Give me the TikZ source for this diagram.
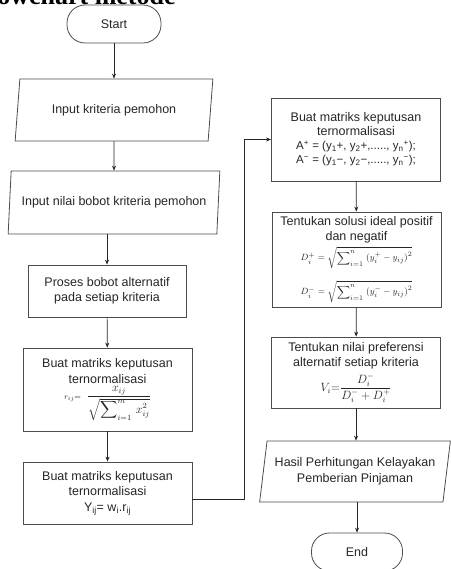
\documentclass[tikz,border=0pt]{standalone}
\usepackage{fontspec}
\usepackage{amsmath}
\setmainfont{Liberation Sans}
\newfontfamily\titlefont{Liberation Serif}
\usetikzlibrary{shapes.geometric,arrows.meta}

\begin{document}
\begin{tikzpicture}
  [x=1pt,y=-1pt,
   every node/.style={text=black!85,font=\fontsize{12.5}{15.5}\selectfont,align=center,inner sep=0pt},
   term/.style={draw=black!70,line width=0.8pt,rounded corners=18pt,minimum width=94pt,minimum height=38pt},
   proc/.style={draw=black!70,line width=0.8pt,rectangle},
   io/.style={draw=black!70,line width=0.8pt,trapezium,trapezium stretches=true},
   flow/.style={draw=black!85,line width=0.7pt,-{Stealth[length=5pt,width=4pt]}}]

  \useasboundingbox (0,0) rectangle (450,569);

  \node[anchor=base west,text=black,font=\titlefont\bfseries\fontsize{26}{28}\selectfont] (title) at (-26,5) {Flowchart metode};

  \node[term] (start) at (114,24) {Start};
  \node[io,trapezium left angle=75,trapezium right angle=105,minimum width=198pt,minimum height=62pt] (inkrit) at (114,110) {Input kriteria pemohon};
  \node[io,trapezium left angle=77,trapezium right angle=103,minimum width=212pt,minimum height=63pt] (inbobot) at (114,202.5) {Input nilai bobot kriteria pemohon};
  \node[proc,minimum width=158pt,minimum height=52pt] (proses) at (107,291) {Proses bobot alternatif\\pada setiap kriteria};
  \node[proc,minimum width=169pt,minimum height=83pt] (normal) at (107.5,389.5)
    {Buat matriks keputusan\\ternormalisasi\\[1pt]
     {\fontsize{8}{9}\selectfont $r_{ij}{=}$}\hspace{6pt}{\fontsize{12}{12}\selectfont $\dfrac{x_{ij}}{\sqrt{\displaystyle\sum\nolimits_{i=1}^{m}\,x_{ij}^{2}}}$}\hspace{14pt}};
  \node[proc,minimum width=169pt,minimum height=62pt] (bobot) at (107.5,493)
    {Buat matriks keputusan\\ternormalisasi\\Y\textsubscript{ij}= w\textsubscript{i}.r\textsubscript{ij}};

  \node[proc,minimum width=169pt,minimum height=83pt,font=\fontsize{12.5}{14}\selectfont] (ideal) at (356,139.5)
    {Buat matriks keputusan\\ternormalisasi\\
     {\fontsize{11.5}{14}\selectfont A\textsuperscript{+} = (y\textsubscript{1}+, y\textsubscript{2}+,....., y\textsubscript{n}\textsuperscript{+});}\\
     {\fontsize{11.5}{14}\selectfont A\textsuperscript{−} = (y\textsubscript{1}−, y\textsubscript{2}−,....., y\textsubscript{n}\textsuperscript{−});}};
  \node[proc,minimum width=169pt,minimum height=95pt] (jarak) at (356.5,259.5)
    {Tentukan solusi ideal positif\\dan negatif\\[3pt]
     {\fontsize{9.5}{10}\selectfont $D_i^{+}=\sqrt{\displaystyle\sum\nolimits_{i=1}^{n}\;(y_i^{+}-y_{ij})^2}$}\\[11pt]
     {\fontsize{9.5}{10}\selectfont $D_i^{-}=\sqrt{\displaystyle\sum\nolimits_{i=1}^{n}\;(y_i^{-}-y_{ij})^2}$}};
  \node[proc,minimum width=169pt,minimum height=71pt] (pref) at (356,372.5)
    {Tentukan nilai preferensi\\alternatif setiap kriteria\\[3pt]
     {\fontsize{11.5}{12}\selectfont $V_i{=}\dfrac{D_i^{-}}{D_i^{-}+D_i^{+}}$}};
  \node[io,trapezium left angle=76,trapezium right angle=104,minimum width=191pt,minimum height=61pt] (hasil) at (355,471.5)
    {Hasil Perhitungan Kelayakan\\Pemberian Pinjaman};
  \node[term,minimum width=91pt] (stop) at (357,552) {End};

  \path
     (start) edge[flow] (inkrit)
     (inkrit) edge[flow] (inbobot)
     (inbobot.south -| proses.north) edge[flow] (proses)
     (proses) edge[flow] (normal)
     (normal) edge[flow] (bobot)
     (ideal) edge[flow] (jarak)
     (jarak) edge[flow] (pref)
     (pref.south) edge[flow] (hasil.north -| pref.south)
     (hasil.south -| stop.north) edge[flow] (stop.north);

  \draw[flow] ([yshift=-6pt]bobot.east) -- ++(52,0) |- (ideal.west);

\end{tikzpicture}
\end{document}
